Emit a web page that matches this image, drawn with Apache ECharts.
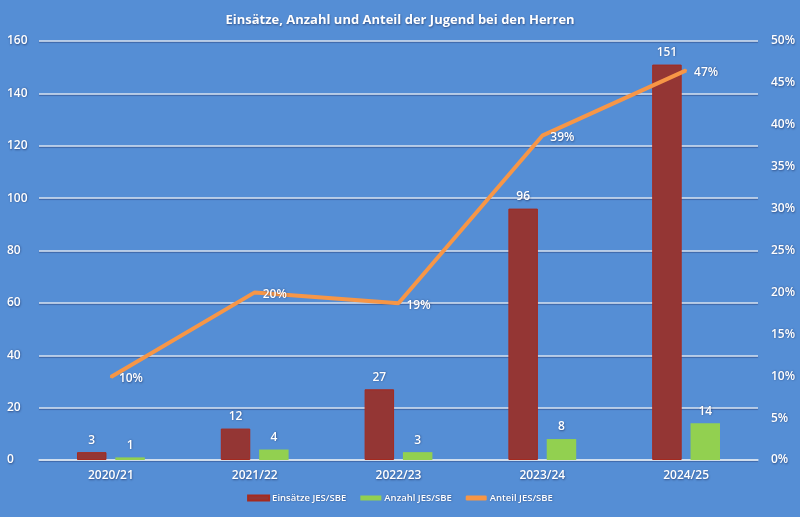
<!DOCTYPE html>
<html>
<head>
<meta charset="utf-8">
<script src="https://cdn.jsdelivr.net/npm/echarts@6/dist/echarts.min.js"></script>
<style>
  html, body { margin: 0; padding: 0; background: #558ed5; }
  #chart { width: 800px; height: 517px; }
</style>
</head>
<body>
<div id="chart"></div>
<script>
var seasons = ['2020/21', '2021/22', '2022/23', '2023/24', '2024/25'];
var einsaetze = [3, 12, 27, 96, 151];
var anzahl = [1, 4, 3, 8, 14];
var anteil = [0.099, 0.2, 0.187, 0.387, 0.465];

var myChart = echarts.init(document.getElementById('chart'));
var font = 'Open Sans';
var shadow = { textShadowColor: 'rgba(0,0,40,0.45)', textShadowBlur: 2, textShadowOffsetX: 0.5, textShadowOffsetY: 0.5 };

function txt(size, extra) {
    return Object.assign({ color: '#ffffff', fontSize: size, fontFamily: font, fontWeight: 600 }, shadow, extra || {});
}

var option = {
    backgroundColor: '#558ed5',
    textStyle: { fontFamily: font },
    title: {
        text: 'Einsätze, Anzahl und Anteil der Jugend bei den Herren',
        left: 'center',
        top: 9,
        textStyle: txt(13, { fontWeight: 'bold' })
    },
    legend: {
        bottom: 9,
        itemWidth: 21,
        itemHeight: 5,
        itemGap: 14,
        textStyle: txt(9.5, { padding: [0, 0, 0, -2] }),
        data: [
            { name: 'Einsätze JES/SBE', icon: 'rect' },
            { name: 'Anzahl JES/SBE', icon: 'rect' },
            { name: 'Anteil JES/SBE', icon: 'roundRect' }
        ]
    },
    grid: { left: 39, right: 42, top: 41, bottom: 57 },
    xAxis: {
        type: 'category',
        data: seasons,
        axisLine: { lineStyle: { color: '#d9e3f0', width: 1.5 } },
        axisTick: { show: false },
        axisLabel: txt(12, { margin: 10 })
    },
    yAxis: [{
        type: 'value',
        min: 0,
        max: 160,
        interval: 20,
        axisLine: { show: false },
        axisTick: { show: false },
        axisLabel: txt(12, { margin: 32, align: 'left' }),
        splitLine: { lineStyle: { color: '#d9e3f0', width: 1.5, shadowColor: 'rgba(0,0,50,0.35)', shadowBlur: 1, shadowOffsetY: 1 } }
    }, {
        type: 'value',
        min: 0,
        max: 0.5,
        interval: 0.05,
        axisLine: { show: false },
        axisTick: { show: false },
        splitLine: { show: false },
        axisLabel: txt(12, {
            margin: 13,
            align: 'left',
            formatter: function (v) { return Math.round(v * 100) + '%'; }
        })
    }],
    series: [{
        name: 'Einsätze JES/SBE',
        type: 'bar',
        data: einsaetze,
        barWidth: '20.5%',
        barGap: '30%',
        itemStyle: { color: '#943634', borderColor: '#a52a1f', borderWidth: 1 },
        label: txt(12, { show: true, position: 'top', distance: 6 })
    }, {
        name: 'Anzahl JES/SBE',
        type: 'bar',
        data: anzahl,
        barWidth: '20.5%',
        itemStyle: { color: '#92d050' },
        label: txt(12, { show: true, position: 'top', distance: 6 })
    }, {
        name: 'Anteil JES/SBE',
        type: 'line',
        yAxisIndex: 1,
        data: anteil,
        symbol: 'circle',
        symbolSize: 2,
        lineStyle: { color: '#f79646', width: 4 },
        itemStyle: { color: '#f79646' },
        label: txt(12, {
            show: true,
            position: 'right',
            distance: 7,
            offset: [0, 2],
            formatter: function (p) { return Math.round(p.value * 100) + '%'; }
        })
    }]
};
myChart.setOption(option);
</script>
</body>
</html>
